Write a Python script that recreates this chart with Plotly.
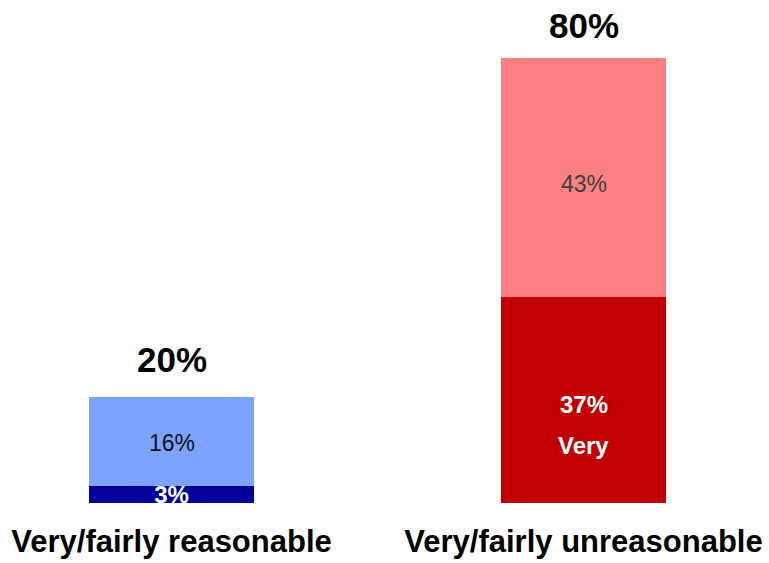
import plotly.graph_objects as go

categories = ["Very/fairly reasonable", "Very/fairly unreasonable"]
very_values = [3, 37]
fairly_values = [16, 43]
totals = [20, 80]
very_colors = ["#000099", "#C00000"]
fairly_colors = ["#7BA3FF", "#FF8080"]
fairly_text_colors = ["#111111", "#404040"]

FONT = "Liberation Sans, Arial, sans-serif"
xpos = list(range(len(categories)))

fig = go.Figure()
fig.add_trace(go.Bar(
    x=xpos, y=very_values, width=0.4005,
    marker=dict(color=very_colors, line=dict(width=0)),
    text=[f"{very_values[0]}%", ""],
    textposition="inside", insidetextanchor="middle",
    constraintext="none", textangle=0,
    textfont=dict(family=FONT, size=24, color="white", weight="bold"),
    cliponaxis=True, hoverinfo="skip", showlegend=False,
))
fig.add_trace(go.Bar(
    x=xpos, y=fairly_values, width=0.4005,
    marker=dict(color=fairly_colors, line=dict(width=0)),
    hoverinfo="skip", showlegend=False,
))

ann = []
# totals
for i, t in enumerate(totals):
    ann.append(dict(x=xpos[i], y=t, text=f"<b>{t}%</b>", showarrow=False,
                    yanchor="middle", yshift=33 if i == 1 else 32,
                    font=dict(family=FONT, size=35, color="black")))
# fairly segment labels
for i, (v, f) in enumerate(zip(very_values, fairly_values)):
    ann.append(dict(x=xpos[i], y=v + f / 2, text=f"{f}%", showarrow=False,
                    yanchor="middle", yshift=-1 if i == 0 else -6,
                    font=dict(family=FONT, size=23, color=fairly_text_colors[i])))
# very segment label for the right bar
ann.append(dict(x=xpos[1], y=very_values[1] / 2, text=f"<b>{very_values[1]}%</b>",
                showarrow=False, yanchor="middle", yshift=-4,
                font=dict(family=FONT, size=24, color="white")))
ann.append(dict(x=xpos[1], y=very_values[1] / 2, text="<b>Very</b>",
                showarrow=False, yanchor="middle", yshift=-45,
                font=dict(family=FONT, size=24, color="white")))

fig.update_layout(
    width=769, height=563,
    margin=dict(l=0, r=0, t=58, b=60),
    barmode="stack",
    paper_bgcolor="white", plot_bgcolor="white",
    xaxis=dict(range=[-0.4163, 1.4502], tickvals=xpos,
               ticktext=[f"<b>{c}</b>" for c in categories],
               tickfont=dict(family=FONT, size=31, color="black"),
               showgrid=False, zeroline=False, showline=False, ticks="",
               ticklabelstandoff=17),
    yaxis=dict(range=[0, 80], visible=False, showgrid=False, zeroline=False),
    annotations=ann,
)
fig.write_html("out.html")
